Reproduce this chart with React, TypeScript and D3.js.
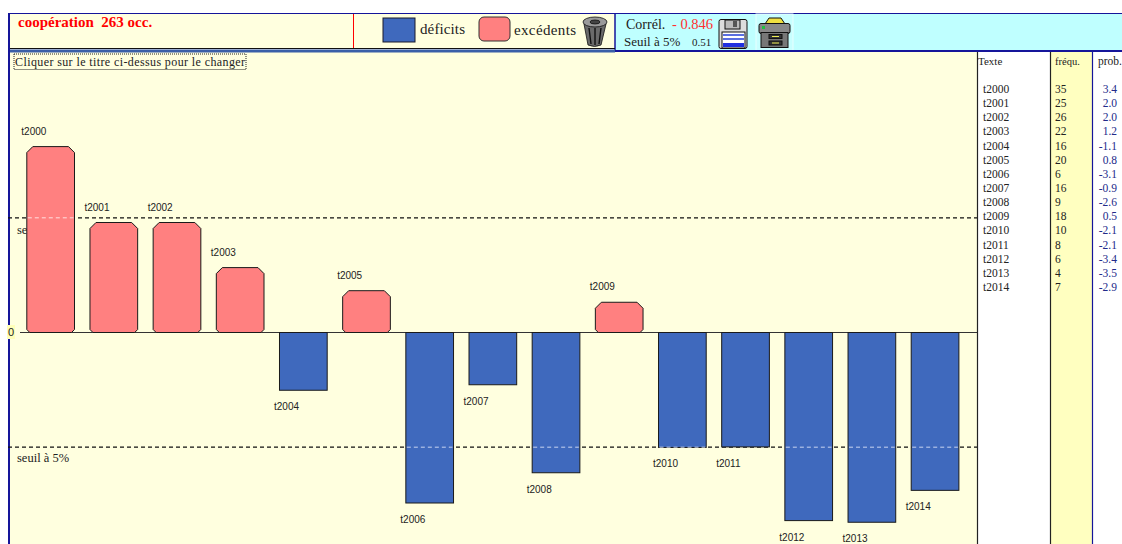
import React from "react";
import * as d3 from "d3";

const labels = ["t2000","t2001","t2002","t2003","t2004","t2005","t2006","t2007","t2008","t2009","t2010","t2011","t2012","t2013","t2014"];
const freqs = [35,25,26,22,16,20,6,16,9,18,10,8,6,4,7];
const probs = ["3.4","2.0","2.0","1.2","-1.1","0.8","-3.1","-0.9","-2.6","0.5","-2.1","-2.1","-3.4","-3.5","-2.9"];
const barValues = [3.38,2.0,2.0,1.18,-1.05,0.76,-3.1,-0.95,-2.55,0.55,-2.09,-2.08,-3.42,-3.45,-2.87];
const threshold = 2.085;

const serif = "'Liberation Serif', serif";
const sans = "'Liberation Sans', sans-serif";
const cream = "#ffffdf";
const navy = "#15159a";

const x = d3.scaleBand<string>().domain(labels).range([19.1, 966.6]).paddingInner(0.245).paddingOuter(0.122);
const y = d3.scaleLinear().domain([0, 1]).range([332.5, 277.5]);

function octBar(x0: number, y0: number, w: number, h: number, c: number) {
  const p = d3.path();
  p.moveTo(x0 + 3, y0 + h);
  p.lineTo(x0, y0 + h - 3);
  p.lineTo(x0, y0 + c);
  p.lineTo(x0 + c, y0);
  p.lineTo(x0 + w - c, y0);
  p.lineTo(x0 + w, y0 + c);
  p.lineTo(x0 + w, y0 + h - 3);
  p.lineTo(x0 + w - 3, y0 + h);
  p.closePath();
  return p.toString();
}

export default function App() {
  const rowY = d3.scalePoint<string>().domain(labels).range([93, 291]);
  return (
    <svg width={1122} height={544} style={{ position: "absolute", left: 0, top: 0, background: "#fff" }}>
      {/* header */}
      <rect x={9} y={13} width={606} height={36} fill={cream} />
      <rect x={615} y={13} width={507} height={38} fill="#bfffff" />
      <line x1={8} x2={1122} y1={13.5} y2={13.5} stroke={navy} strokeWidth={1} />
      <line x1={353.5} x2={353.5} y1={14} y2={48} stroke="#ff0000" />
      <text x={18} y={27} fontFamily={serif} fontSize={15} fontWeight="bold" fill="#ff0000" xmlSpace="preserve">coopération  263 occ.</text>

      <rect x={383} y={18} width={32} height={24} fill="#3f69bd" stroke="#1a1a2a" strokeWidth={1} />
      <text x={420} y={34} fontFamily={serif} fontSize={15} fill="#222" textLength={45}>déficits</text>
      <rect x={479} y={17} width={31} height={24} rx={5} fill="#ff8080" stroke="#333" strokeWidth={1} />
      <text x={514} y={35} fontFamily={serif} fontSize={15} fill="#222" textLength={62}>excédents</text>

      {/* trash icon */}
      <g stroke="#111" strokeWidth={0.8}>
        <path d="M584 24 L588 45 Q594.5 48 601 45 L606 24 Z" fill="#6a6a6a" />
        <ellipse cx={595} cy={22} rx={12} ry={5} fill="#9a9a9a" />
        <ellipse cx={595} cy={22} rx={5} ry={2} fill="#444" />
        <path d="M589 28 L591 44 M595 28 V45 M601 28 L599 44" stroke="#111" strokeWidth={1.4} fill="none" />
      </g>

      <line x1={615} x2={615} y1={13} y2={52} stroke={navy} strokeWidth={1.5} />
      <text x={626} y={29} fontFamily={serif} fontSize={14} fill="#222">Corrél.</text>
      <text x={672} y={29} fontFamily={serif} fontSize={14.5} fill="#ff3030">- 0.846</text>
      <text x={624} y={46} fontFamily={serif} fontSize={13} fill="#222">Seuil à 5%</text>
      <text x={692} y={46} fontFamily={serif} fontSize={11} fill="#222">0.51</text>

      {/* floppy icon */}
      <g stroke="#111" strokeWidth={1}>
        <rect x={719} y={19.5} width={28} height={29} rx={2} fill="#ddd" />
        <rect x={725} y={20} width={15} height={9} fill="#bbb" />
        <rect x={733} y={21} width={4} height={6} fill="#555" stroke="none" />
        <rect x={722} y={32} width={23} height={16} fill="#fff" />
        <g stroke="#5a6ee0" strokeWidth={2}>
          <line x1={723} x2={744} y1={35} y2={35} />
          <line x1={723} x2={744} y1={39} y2={39} />
        </g>
        <rect x={723} y={43} width={21} height={4} fill="#2030e0" stroke="none" />
      </g>

      {/* printer icon */}
      <rect x={756} y={14} width={37} height={37} fill="#c8ffff" stroke="#e8ffff" />
      <g stroke="#111" strokeWidth={1}>
        <path d="M765 24 L769 18 L781 18 L785 24 Z" fill="#f0e040" />
        <rect x={759} y={23.5} width={31} height={10} rx={2} fill="#888" />
        <rect x={761} y={32.5} width={27} height={15} fill="#777" />
        <rect x={769} y={34.5} width={13} height={4} fill="#333" />
        <rect x={769} y={41} width={13} height={4} fill="#333" />
        <line x1={772} x2={779} y1={36.5} y2={36.5} stroke="#ee5" />
        <line x1={772} x2={779} y1={43} y2={43} stroke="#ee5" />
      </g>
      <rect x={762} y={26} width={3} height={3} fill="#20c040" />

      {/* plot */}
      <rect x={10} y={52} width={968} height={492} fill={cream} />
      <rect x={8} y={49.5} width={607} height={3} fill="#3a5fa8" />
      <line x1={615} x2={1122} y1={51} y2={51} stroke={navy} strokeWidth={2} />
      <line x1={8} x2={615} y1={48.5} y2={48.5} stroke="#111" />
      <line x1={9} x2={9} y1={13} y2={544} stroke={navy} strokeWidth={2} />

      <rect x={14} y={54} width={232} height={15.5} fill="none" stroke="#222" strokeDasharray="1 1" />
      <text x={15} y={66} fontFamily={serif} fontSize={12} fill="#222" textLength={230}>Cliquer sur le titre ci-dessus pour le changer</text>

      <text x={17} y={234} fontFamily={serif} fontSize={12.5} fill="#222">seuil à 5%</text>
      <text x={17} y={462} fontFamily={serif} fontSize={12.5} fill="#222">seuil à 5%</text>

      <line x1={8} x2={978} y1={y(threshold)} y2={y(threshold)} stroke="#111" strokeWidth={1.2} strokeDasharray="4 3" />
      <line x1={8} x2={978} y1={y(-threshold)} y2={y(-threshold)} stroke="#111" strokeWidth={1.2} strokeDasharray="4 3" />
      <line x1={20} x2={978} y1={y(0)} y2={y(0)} stroke="#333" strokeWidth={1} />

      {barValues.map((v, i) => {
        const bx = x(labels[i])!;
        const w = x.bandwidth();
        const yv = y(v);
        return v >= 0 ? (
          <path key={i} d={octBar(bx, yv, w, y(0) - yv, 6)} fill="#ff8080" stroke="#1a1a1a" strokeWidth={1} />
        ) : (
          <rect key={i} x={bx} y={y(0)} width={w} height={yv - y(0)} fill="#3f69bd" stroke="#1a1a1a" strokeWidth={1} />
        );
      })}
      {/* pale dashes of the thresholds where they cross taller bars */}
      {barValues.map((v, i) => {
        if (Math.abs(v) <= threshold) return null;
        const bx = x(labels[i])!;
        const ly = y(v >= 0 ? threshold : -threshold);
        return (
          <line key={i} x1={bx + 1} x2={bx + x.bandwidth() - 1} y1={ly} y2={ly}
            stroke={v >= 0 ? "#ffe0e0" : "#c8d4f0"} strokeDasharray="4 3" />
        );
      })}
      <rect x={7} y={325} width={8} height={14} fill="#ffffb8" />
      <text x={11} y={336} textAnchor="middle" fontFamily={sans} fontSize={11} fill="#222">0</text>

      {barValues.map((v, i) => {
        const bx = x(labels[i])!;
        const yv = y(v);
        return (
          <text key={i} x={bx - 5.5} y={v >= 0 ? yv - 12 : yv + 20}
            fontFamily={sans} fontSize={10} fill="#222">{labels[i]}</text>
        );
      })}

      {/* side table */}
      <rect x={978} y={52} width={72} height={492} fill="#fff" />
      <rect x={1051} y={52} width={41} height={492} fill="#ffffc0" />
      <rect x={1093} y={52} width={29} height={492} fill="#fff" />
      <line x1={977.5} x2={977.5} y1={52} y2={544} stroke="#222" strokeWidth={1.2} />
      <line x1={1050.5} x2={1050.5} y1={52} y2={544} stroke="#222" strokeWidth={1.2} />
      <line x1={1092.5} x2={1092.5} y1={52} y2={544} stroke={navy} strokeWidth={1.2} />
      <text x={978} y={65} fontFamily={serif} fontSize={11} fill="#222">Texte</text>
      <text x={1055} y={65} fontFamily={serif} fontSize={10.5} fill="#222">fréqu.</text>
      <text x={1098} y={65} fontFamily={serif} fontSize={11.5} fill="#222">prob.</text>
      {labels.map((l, i) => (
        <g key={l} fontFamily={serif} fontSize={11.5}>
          <text x={983} y={rowY(l)} fill="#222">{l}</text>
          <text x={1055} y={rowY(l)} fill="#222">{freqs[i]}</text>
          <text x={1117} y={rowY(l)} fill="#222a8a" textAnchor="end">{probs[i]}</text>
        </g>
      ))}
    </svg>
  );
}
